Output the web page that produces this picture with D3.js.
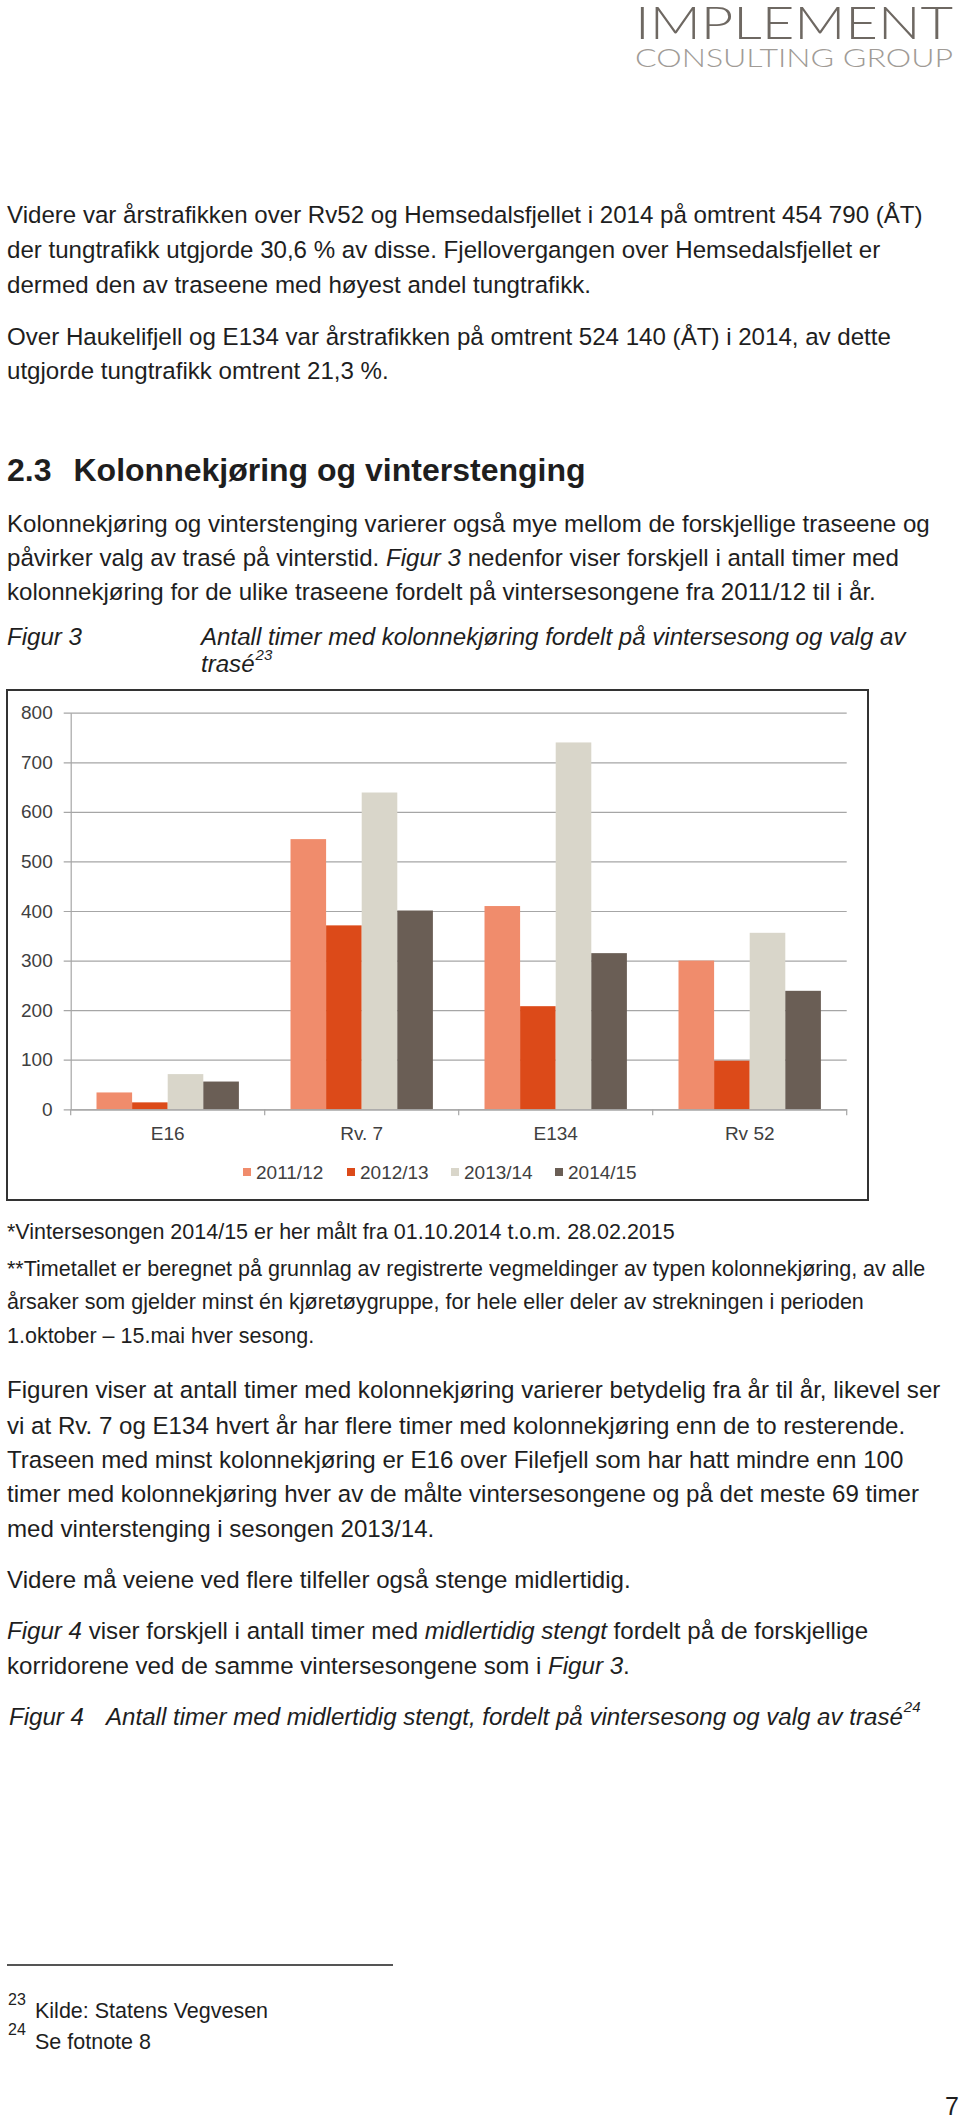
<!DOCTYPE html>
<html>
<head>
<meta charset="utf-8">
<script src="https://cdn.jsdelivr.net/npm/d3@7"></script>
<style>
  html, body { margin: 0; padding: 0; background: #fff; }
  svg { display: block; }
  .body { font-family: "Liberation Sans", Arial, sans-serif; fill: #1e1e1e; }
</style>
</head>
<body>
<script>
// ---------- data ----------
const categories = ["E16", "Rv. 7", "E134", "Rv 52"];
const seasons = ["2011/12", "2012/13", "2013/14", "2014/15"];
const values2011_12 = [34, 545, 410, 300];
const values2012_13 = [14, 371, 208, 98];
const values2013_14 = [71, 639, 740, 356];
const values2014_15 = [56, 401, 315, 239];
const yTickValues = [0, 100, 200, 300, 400, 500, 600, 700, 800];
const seasonColors = ["#F08C6C", "#DC4A19", "#D9D6CA", "#6A5E55"];

const seriesValues = [values2011_12, values2012_13, values2013_14, values2014_15];
const table = categories.map((c, i) => ({
  category: c,
  bars: seasons.map((s, j) => ({ season: s, value: seriesValues[j][i] }))
}));

// ---------- page ----------
const W = 960, H = 2119;
const svg = d3.select("body").append("svg").attr("width", W).attr("height", H);
svg.append("rect").attr("width", W).attr("height", H).attr("fill", "#fff");

// logo
svg.append("text").attr("x", 635).attr("y", 39)
  .attr("font-family", "Lato, 'Open Sans', sans-serif").attr("font-weight", 300)
  .attr("font-size", 46).attr("fill", "#6e6862")
  .attr("textLength", 318).attr("lengthAdjust", "spacingAndGlyphs")
  .text("IMPLEMENT");
svg.append("text").attr("x", 635).attr("y", 67)
  .attr("font-family", "Lato, 'Open Sans', sans-serif").attr("font-weight", 300)
  .attr("font-size", 26).attr("fill", "#a09b96")
  .attr("textLength", 318).attr("lengthAdjust", "spacingAndGlyphs")
  .text("CONSULTING GROUP");

// helper: line of text made of segments [text, italic?]
function line(x, y, size, segs, opts = {}) {
  const t = svg.append("text").attr("class", "body").attr("x", x).attr("y", y)
    .attr("font-size", size);
  if (opts.weight) t.attr("font-weight", opts.weight);
  if (opts.anchor) t.attr("text-anchor", opts.anchor);
  if (typeof segs === "string") segs = [[segs, false]];
  segs.forEach(([s, it]) => {
    const ts = t.append("tspan").text(s);
    if (it) ts.attr("font-style", "italic");
  });
  return t;
}

const F = 24.1;
line(7, 223, F, "Videre var årstrafikken over Rv52 og Hemsedalsfjellet i 2014 på omtrent 454 790 (ÅT)");
line(7, 258, F, "der tungtrafikk utgjorde 30,6 % av disse. Fjellovergangen over Hemsedalsfjellet er");
line(7, 293, F, "dermed den av traseene med høyest andel tungtrafikk.");
line(7, 345, F, "Over Haukelifjell og E134 var årstrafikken på omtrent 524 140 (ÅT) i 2014, av dette");
line(7, 379, F, "utgjorde tungtrafikk omtrent 21,3 %.");

line(7, 481, 32, "2.3", { weight: "bold" });
line(73.5, 481, 32, "Kolonnekjøring og vinterstenging", { weight: "bold" });

line(7, 532, F, "Kolonnekjøring og vinterstenging varierer også mye mellom de forskjellige traseene og");
line(7, 566, F, [["påvirker valg av trasé på vinterstid. ", false], ["Figur 3", true], [" nedenfor viser forskjell i antall timer med", false]]);
line(7, 600, F, "kolonnekjøring for de ulike traseene fordelt på vintersesongene fra 2011/12 til i år.");

line(7, 645, F, [["Figur 3", true]]);
line(201, 645, F, [["Antall timer med kolonnekjøring fordelt på vintersesong og valg av", true]]);
const tr = line(201, 672, F, [["trasé", true]]);
line(201 + tr.node().getComputedTextLength() + 1, 660, 15, [["23", true]]);

// ---------- chart ----------
svg.append("rect").attr("x", 7).attr("y", 690).attr("width", 861).attr("height", 510)
  .attr("fill", "#fff").attr("stroke", "#333").attr("stroke-width", 2);

const plot = { left: 70.7, right: 846.7, top: 712.7, bottom: 1109.3 };
const y = d3.scaleLinear().domain([0, 800]).range([plot.bottom, plot.top]);
const x = d3.scaleBand().domain(categories).range([plot.left, plot.right]).paddingInner(0).paddingOuter(0);
const xs = d3.scaleBand().domain(seasons).range([0, x.bandwidth()]).paddingInner(0).paddingOuter(0.725);
const color = d3.scaleOrdinal().domain(seasons).range(seasonColors);

const chartFont = "'Liberation Sans', Arial, sans-serif";

// y axis with gridlines
const yAxis = svg.append("g").attr("transform", `translate(${plot.left},0)`)
  .call(d3.axisLeft(y).tickValues(yTickValues).tickSize(-(plot.right - plot.left)).tickSizeOuter(0).tickPadding(18));
yAxis.select(".domain").attr("stroke", "#a6a6a6").attr("stroke-width", 1.2);
yAxis.selectAll(".tick line").attr("stroke", "#a6a6a6").attr("stroke-width", 1.2).attr("x1", -7);
yAxis.selectAll(".tick text").attr("font-family", chartFont).attr("font-size", 19).attr("fill", "#404040");

// bars
const groups = svg.append("g").selectAll("g").data(table).join("g")
  .attr("transform", d => `translate(${x(d.category)},0)`);
groups.selectAll("rect").data(d => d.bars).join("rect")
  .attr("x", d => xs(d.season))
  .attr("width", xs.bandwidth())
  .attr("y", d => y(d.value))
  .attr("height", d => y(0) - y(d.value))
  .attr("fill", d => color(d.season));

// x axis
const xAxis = svg.append("g").attr("transform", `translate(0,${plot.bottom})`)
  .call(d3.axisBottom(x).tickSize(0).tickPadding(17));
xAxis.select(".domain").attr("stroke", "#a6a6a6").attr("stroke-width", 1.2);
xAxis.selectAll(".tick text").attr("font-family", chartFont).attr("font-size", 19).attr("fill", "#404040");
const boundaries = categories.map(c => x(c)).concat([x(categories[categories.length - 1]) + x.bandwidth()]);
xAxis.selectAll("line.sep").data(boundaries).join("line").attr("class", "sep")
  .attr("x1", d => d).attr("x2", d => d).attr("y1", 0).attr("y2", 6)
  .attr("stroke", "#a6a6a6").attr("stroke-width", 1.2);

// legend
const legend = svg.append("g").attr("transform", "translate(243,1172)");
const li = legend.selectAll("g").data(seasons).join("g")
  .attr("transform", (d, i) => `translate(${i * 104},0)`);
li.append("rect").attr("x", 0).attr("y", -4).attr("width", 8).attr("height", 8).attr("fill", d => color(d));
li.append("text").attr("x", 13).attr("y", 7).attr("font-family", chartFont).attr("font-size", 19)
  .attr("fill", "#404040").text(d => d);

// ---------- notes and text below chart ----------
const FN = 21.5;
line(7, 1239, FN, "*Vintersesongen 2014/15 er her målt fra 01.10.2014 t.o.m. 28.02.2015");
line(7, 1276, FN, "**Timetallet er beregnet på grunnlag av registrerte vegmeldinger av typen kolonnekjøring, av alle");
line(7, 1309, FN, "årsaker som gjelder minst én kjøretøygruppe, for hele eller deler av strekningen i perioden");
line(7, 1343, FN, "1.oktober – 15.mai hver sesong.");

line(7, 1398, F, "Figuren viser at antall timer med kolonnekjøring varierer betydelig fra år til år, likevel ser");
line(7, 1434, F, "vi at Rv. 7 og E134 hvert år har flere timer med kolonnekjøring enn de to resterende.");
line(7, 1468, F, "Traseen med minst kolonnekjøring er E16 over Filefjell som har hatt mindre enn 100");
line(7, 1502, F, "timer med kolonnekjøring hver av de målte vintersesongene og på det meste 69 timer");
line(7, 1537, F, "med vinterstenging i sesongen 2013/14.");

line(7, 1588, F, "Videre må veiene ved flere tilfeller også stenge midlertidig.");
line(7, 1639, F, [["Figur 4", true], [" viser forskjell i antall timer med ", false], ["midlertidig stengt", true], [" fordelt på de forskjellige", false]]);
line(7, 1674, F, [["korridorene ved de samme vintersesongene som i ", false], ["Figur 3", true], [".", false]]);

line(9, 1725, F, [["Figur 4", true]]);
const f4 = line(106, 1725, F, [["Antall timer med midlertidig stengt, fordelt på vintersesong og valg av trasé", true]]);
const f4end = 106 + f4.node().getComputedTextLength();
line(f4end + 1, 1712, 15, [["24", true]]);

// footnotes
svg.append("line").attr("x1", 7).attr("x2", 393).attr("y1", 1965).attr("y2", 1965)
  .attr("stroke", "#555").attr("stroke-width", 2);
line(8, 2005, 16, "23");
line(35, 2018, 21.5, "Kilde: Statens Vegvesen");
line(8, 2035, 16, "24");
line(35, 2049, 21.5, "Se fotnote 8");

line(959, 2115, 25, "7", { anchor: "end" });
</script>
</body>
</html>
